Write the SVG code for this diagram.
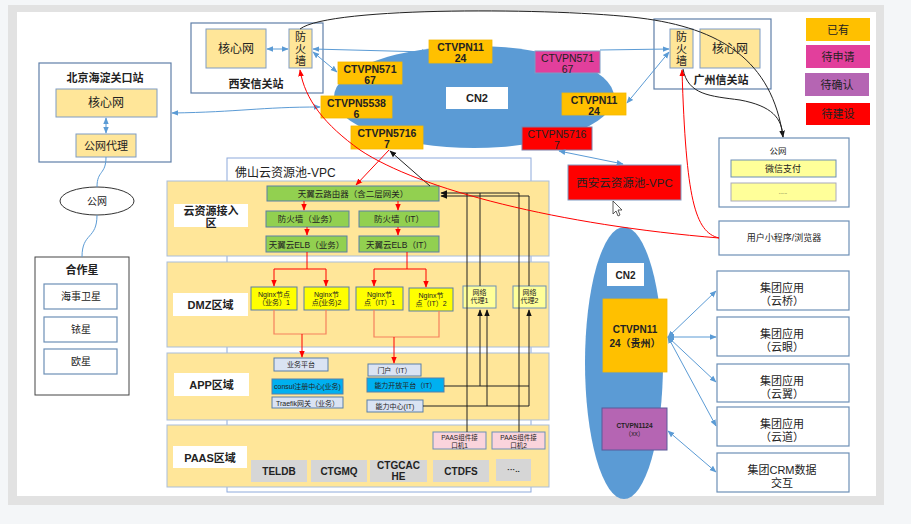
<svg xmlns="http://www.w3.org/2000/svg" width="911" height="524" viewBox="0 0 911 524">
<defs>
<style>
text{font-family:"Liberation Sans","Noto Sans CJK SC",sans-serif;fill:#222;text-anchor:middle}
.b{font-weight:bold}
.st{fill:#fff;stroke:#5f7fa8;stroke-width:1.2}
.core{fill:#ffe699;stroke:#7f9cc4;stroke-width:1}
.zone{fill:#ffe699;stroke:#a9bedb;stroke-width:1}
.lbl{fill:#fff;stroke:none}
.org{fill:#ffc000;stroke:#f5b800;stroke-width:0.8}
.grn{fill:#92d050;stroke:#5a7fa8;stroke-width:1}
.yel{fill:#ffff00;stroke:#5a7fa8;stroke-width:1}
.prx{fill:#ffff99;stroke:#6d8fb6;stroke-width:1}
.lb{fill:#dae3f3;stroke:#5a7fa8;stroke-width:1}
.cy{fill:#00b0f0;stroke:#5a7fa8;stroke-width:1}
.pk{fill:#fad4dc;stroke:#6d8fb6;stroke-width:1}
.gy{fill:#d6d6d6;stroke:none}
.wb{fill:#fff;stroke:#6d8fb6;stroke-width:1.2}
.blue{fill:none;stroke:#5b9bd5;stroke-width:1}
.blk{fill:none;stroke:#222;stroke-width:1}
.red{fill:none;stroke:#ff0000;stroke-width:1}
.sal{fill:none;stroke:#f5805e;stroke-width:1.2}
</style>
<marker id="ab" viewBox="0 0 10 10" refX="9" refY="5" markerWidth="7" markerHeight="7" orient="auto-start-reverse"><path d="M0,1 L10,5 L0,9 Z" fill="#5b9bd5"/></marker>
<marker id="ak" viewBox="0 0 10 10" refX="9" refY="5" markerWidth="7" markerHeight="7" orient="auto-start-reverse"><path d="M0,1 L10,5 L0,9 Z" fill="#111"/></marker>
<marker id="ar" viewBox="0 0 10 10" refX="9" refY="5" markerWidth="7" markerHeight="7" orient="auto-start-reverse"><path d="M0,1 L10,5 L0,9 Z" fill="#ff0000"/></marker>
</defs>

<rect x="0" y="0" width="911" height="524" fill="#f4f6f8"/>
<rect x="8" y="5" width="876" height="500" fill="#e2e2e2"/>
<rect x="17" y="12" width="859" height="484" fill="#ffffff"/>

<!-- Xi'an gateway -->
<g id="xian-station">
<rect class="st" x="191" y="23" width="132" height="70"/>
<text x="256" y="88" font-size="11" class="b">西安信关站</text>
</g>
<g id="xian-core"><rect class="core" x="206" y="29" width="60" height="39"/><text x="236" y="53" font-size="12">核心网</text></g>
<g id="xian-fw"><rect class="core" x="289" y="29" width="23" height="39"/>
<text x="300.5" y="41" font-size="11">防</text><text x="300.5" y="53" font-size="11">火</text><text x="300.5" y="65" font-size="11">墙</text></g>

<!-- Beijing -->
<g id="beijing-station"><rect class="st" x="39" y="63" width="132" height="99"/><text x="105" y="82" font-size="11" class="b">北京海淀关口站</text></g>
<g id="bj-core"><rect class="core" x="56" y="89" width="101" height="28"/><text x="106" y="107" font-size="12">核心网</text></g>
<g id="bj-proxy"><rect class="core" x="76" y="134" width="60" height="23"/><text x="106" y="150" font-size="11">公网代理</text></g>

<g id="public-net"><ellipse cx="97" cy="201" rx="37" ry="14" fill="#fff" stroke="#333" stroke-width="1"/><text x="97" y="205" font-size="10">公网</text></g>

<g id="partners"><rect x="35" y="257" width="94" height="138" fill="#fff" stroke="#444" stroke-width="1"/><text x="82" y="274" font-size="11" class="b">合作星</text></g>
<g id="p-hsws"><rect class="wb" x="44" y="284" width="73" height="25"/><text x="81" y="300" font-size="10" fill="#444">海事卫星</text></g>
<g id="p-yx"><rect class="wb" x="44" y="317" width="73" height="25"/><text x="81" y="333" font-size="10" fill="#444">铱星</text></g>
<g id="p-ox"><rect class="wb" x="44" y="349" width="73" height="25"/><text x="81" y="365" font-size="10" fill="#444">欧星</text></g>

<!-- CN2 top -->
<g id="cn2-top"><ellipse cx="474" cy="97" rx="140" ry="51" fill="#5b9bd5"/>
<rect x="446" y="87" width="62" height="22" fill="#fff"/><text x="477" y="102" font-size="11" class="b">CN2</text></g>
<g id="vpn1124-top"><rect class="org" x="429" y="40" width="63" height="23"/><text x="460.5" y="51" font-size="10.5" class="b">CTVPN11</text><text x="460.5" y="62" font-size="10.5" class="b">24</text></g>
<g id="vpn57167-l"><rect class="org" x="338" y="62" width="64" height="22"/><text x="370" y="73" font-size="10.5" class="b">CTVPN571</text><text x="370" y="84" font-size="10.5" class="b">67</text></g>
<g id="vpn55386"><rect class="org" x="321" y="96" width="71" height="22"/><text x="356.5" y="107" font-size="10.5" class="b">CTVPN5538</text><text x="356.5" y="118" font-size="10.5" class="b">6</text></g>
<g id="vpn57167-o"><rect class="org" x="351" y="126" width="72" height="23"/><text x="387" y="137" font-size="10.5" class="b">CTVPN5716</text><text x="387" y="148" font-size="10.5" class="b">7</text></g>
<g id="vpn57167-m"><rect x="535" y="51" width="65" height="22" fill="#e23f9c" stroke="#7f9cc4" stroke-width="1"/><text x="567.5" y="62" font-size="10.5" fill="#3a2040">CTVPN571</text><text x="567.5" y="73" font-size="10.5" fill="#3a2040">67</text></g>
<g id="vpn1124-r"><rect class="org" x="562" y="93" width="64" height="22"/><text x="594" y="104" font-size="10.5" class="b">CTVPN11</text><text x="594" y="115" font-size="10.5" class="b">24</text></g>
<g id="vpn57167-r"><rect x="522" y="127" width="70" height="23" fill="#ff0000" stroke="#7f7fa8" stroke-width="1"/><text x="557" y="138" font-size="10.5" fill="#333">CTVPN5716</text><text x="557" y="149" font-size="10.5" fill="#333">7</text></g>

<g id="xian-vpc"><rect x="568" y="165" width="113" height="35" fill="#ff0000" stroke="#7f9cc4" stroke-width="1"/><text x="624.5" y="187" font-size="11.5">西安云资源池-VPC</text></g>

<!-- Guangzhou -->
<g id="gz-station"><rect class="st" x="654" y="19" width="117" height="70"/><text x="721" y="84" font-size="11" class="b">广州信关站</text></g>
<g id="gz-fw"><rect class="core" x="670" y="29" width="23" height="39"/>
<text x="681.5" y="41" font-size="11">防</text><text x="681.5" y="53" font-size="11">火</text><text x="681.5" y="65" font-size="11">墙</text></g>
<g id="gz-core"><rect class="core" x="700" y="29" width="60" height="39"/><text x="730" y="53" font-size="12">核心网</text></g>

<!-- Legend -->
<g id="lg-have"><rect x="806" y="18" width="64" height="23" fill="#ffc000"/><text x="838" y="34" font-size="11">已有</text></g>
<g id="lg-apply"><rect x="806" y="45" width="64" height="23" fill="#e23f9c"/><text x="838" y="61" font-size="11">待申请</text></g>
<g id="lg-confirm"><rect x="805" y="73" width="64" height="23" fill="#b565b3"/><text x="837" y="89" font-size="11">待确认</text></g>
<g id="lg-build"><rect x="806" y="103" width="64" height="22" fill="#ff0000"/><text x="838" y="118" font-size="11">待建设</text></g>

<!-- Public net right -->
<g id="pub-right"><rect class="wb" x="719" y="138" width="130" height="69"/><text x="778" y="154" font-size="8.5" fill="#333">公网</text></g>
<g id="wechat"><rect x="731" y="160" width="105" height="17" fill="#ffff99" stroke="#6d8fb6" stroke-width="1"/><text x="783" y="172" font-size="9" fill="#333">微信支付</text></g>
<g id="more-pay"><rect x="731" y="183" width="105" height="18" fill="#ffff99" stroke="#aab" stroke-width="1"/><text x="783" y="194" font-size="5" fill="#999">......</text></g>
<g id="user"><rect class="wb" x="719" y="221" width="130" height="34"/><text x="784" y="241" font-size="9" fill="#333">用户小程序/浏览器</text></g>

<!-- CN2 right -->
<g id="cn2-right"><ellipse cx="624" cy="363" rx="39" ry="136" fill="#5b9bd5"/>
<rect x="607" y="263" width="37" height="23" fill="#fff"/><text x="625.5" y="279" font-size="10" class="b">CN2</text></g>
<g id="vpn-gz"><rect class="org" x="603" y="299" width="64" height="73"/><text x="635" y="333" font-size="10" class="b">CTVPN11</text><text x="635" y="347" font-size="10" class="b">24（贵州）</text></g>
<g id="vpn-xx"><rect x="602" y="408" width="65" height="42" fill="#b565b3" stroke="#5a5a9a" stroke-width="1"/><text x="634.5" y="428" font-size="6.5" class="b">CTVPN1124</text><text x="634.5" y="436" font-size="6.5">（xx）</text></g>

<g id="app-yq"><rect class="wb" x="717" y="271" width="132" height="39"/><text x="782" y="292" font-size="11">集团应用</text><text x="782" y="305" font-size="11">（云桥）</text></g>
<g id="app-yy"><rect class="wb" x="717" y="317" width="132" height="39"/><text x="782" y="338" font-size="11">集团应用</text><text x="782" y="351" font-size="11">（云眼）</text></g>
<g id="app-yi"><rect class="wb" x="717" y="364" width="132" height="38"/><text x="782" y="385" font-size="11">集团应用</text><text x="782" y="398" font-size="11">（云翼）</text></g>
<g id="app-yd"><rect class="wb" x="717" y="407" width="132" height="39"/><text x="782" y="428" font-size="11">集团应用</text><text x="782" y="441" font-size="11">（云道）</text></g>
<g id="app-crm"><rect class="wb" x="717" y="453" width="132" height="39"/><text x="782" y="474" font-size="11">集团CRM数据</text><text x="782" y="487" font-size="11">交互</text></g>

<!-- Foshan VPC -->
<g id="foshan-vpc"><rect x="227" y="158" width="304" height="334" fill="#fff" stroke="#8eaadb" stroke-width="1"/>
<text x="235" y="177" font-size="12" style="text-anchor:start">佛山云资源池-VPC</text></g>
<g id="zone-access"><rect class="zone" x="167" y="181" width="382" height="75"/><rect class="lbl" x="174" y="204" width="74" height="23"/><text x="211" y="215" font-size="11" class="b">云资源接入</text><text x="211" y="227" font-size="11" class="b">区</text></g>
<g id="zone-dmz"><rect class="zone" x="167" y="262" width="382" height="85"/><rect class="lbl" x="173" y="293" width="75" height="23"/><text x="210.5" y="309" font-size="11" class="b">DMZ区域</text></g>
<g id="zone-app"><rect class="zone" x="167" y="353" width="382" height="67"/><rect class="lbl" x="174" y="373" width="75" height="23"/><text x="211.5" y="389" font-size="11" class="b">APP区域</text></g>
<g id="zone-paas"><rect class="zone" x="167" y="425" width="382" height="62"/><rect class="lbl" x="173" y="446" width="74" height="22"/><text x="210" y="462" font-size="11" class="b">PAAS区域</text></g>

<g id="router"><rect class="grn" x="267" y="186" width="172" height="15"/><text x="353" y="197" font-size="8.5">天翼云路由器（含二层网关）</text></g>
<g id="fw-biz"><rect class="grn" x="266" y="211" width="83" height="16"/><text x="307.5" y="222" font-size="8.5">防火墙（业务）</text></g>
<g id="fw-it"><rect class="grn" x="359" y="211" width="80" height="16"/><text x="399" y="222" font-size="8.5">防火墙（IT）</text></g>
<g id="elb-biz"><rect class="grn" x="266" y="236" width="81" height="16"/><text x="306.5" y="247.5" font-size="8.5">天翼云ELB（业务）</text></g>
<g id="elb-it"><rect class="grn" x="359" y="236" width="80" height="16"/><text x="399" y="247.5" font-size="8.5">天翼云ELB（IT）</text></g>

<g id="ngx-b1"><rect class="yel" x="251" y="287" width="46" height="23"/><text x="274" y="297" font-size="7">Nginx节点</text><text x="274" y="305" font-size="7">（业务）1</text></g>
<g id="ngx-b2"><rect class="yel" x="304" y="287" width="45" height="23"/><text x="326.5" y="297" font-size="7">Nginx节</text><text x="326.5" y="305" font-size="7">点(业务)2</text></g>
<g id="ngx-i1"><rect class="yel" x="356" y="287" width="47" height="23"/><text x="379.5" y="297" font-size="7">Nginx节</text><text x="379.5" y="305" font-size="7">点（IT）1</text></g>
<g id="ngx-i2"><rect class="yel" x="409" y="288" width="44" height="23"/><text x="431" y="298" font-size="7">Nginx节</text><text x="431" y="306" font-size="7">点（IT）2</text></g>
<g id="proxy1"><rect class="prx" x="463" y="286" width="33" height="22"/><text x="479.5" y="295" font-size="7" fill="#444">网络</text><text x="479.5" y="303" font-size="7" fill="#444">代理1</text></g>
<g id="proxy2"><rect class="prx" x="513" y="286" width="33" height="22"/><text x="529.5" y="295" font-size="7" fill="#444">网络</text><text x="529.5" y="303" font-size="7" fill="#444">代理2</text></g>

<g id="biz-platform"><rect class="lb" x="274" y="358" width="54" height="13"/><text x="301" y="367" font-size="7">业务平台</text></g>
<g id="portal"><rect class="lb" x="368" y="364" width="53" height="12"/><text x="394.5" y="373" font-size="7">门户（IT）</text></g>
<g id="consul"><rect class="cy" x="272" y="379" width="71" height="15"/><text x="307.5" y="389" font-size="7">consul注册中心(业务)</text></g>
<g id="open-platform"><rect class="cy" x="367" y="378" width="77" height="14"/><text x="405.5" y="388" font-size="7">能力开放平台（IT）</text></g>
<g id="traefik"><rect class="lb" x="272" y="397" width="71" height="11"/><text x="307.5" y="405.5" font-size="7">Traefik网关（业务）</text></g>
<g id="ability"><rect class="lb" x="367" y="400" width="56" height="12"/><text x="395" y="409" font-size="7">能力中心(IT)</text></g>

<g id="paas-if1"><rect class="pk" x="433" y="432" width="53" height="17"/><text x="459.5" y="440" font-size="6.5" fill="#444">PAAS组件接</text><text x="459.5" y="448" font-size="6.5" fill="#444">口机1</text></g>
<g id="paas-if2"><rect class="pk" x="492" y="432" width="53" height="17"/><text x="518.5" y="440" font-size="6.5" fill="#444">PAAS组件接</text><text x="518.5" y="448" font-size="6.5" fill="#444">口机2</text></g>
<g id="teldb"><rect class="gy" x="251" y="460" width="56" height="22"/><text x="279" y="475" font-size="10" class="b">TELDB</text></g>
<g id="ctgmq"><rect class="gy" x="311" y="460" width="56" height="22"/><text x="339" y="475" font-size="10" class="b">CTGMQ</text></g>
<g id="ctgcache"><rect class="gy" x="370" y="460" width="57" height="22"/><text x="398.5" y="469" font-size="10" class="b">CTGCAC</text><text x="398.5" y="480" font-size="10" class="b">HE</text></g>
<g id="ctdfs"><rect class="gy" x="433" y="460" width="56" height="22"/><text x="461" y="475" font-size="10" class="b">CTDFS</text></g>
<g id="etc"><rect class="gy" x="496" y="459" width="35" height="22"/><text x="513.5" y="472" font-size="8" class="b">···..</text></g>

<!-- Connectors -->
<g id="connectors">
<path class="blue" d="M267,49 L288,49" marker-start="url(#ab)" marker-end="url(#ab)"/>
<path class="blue" d="M106,118 L106,133" marker-start="url(#ab)" marker-end="url(#ab)"/>
<path class="blue" d="M172,113 C240,112 260,107 320,107" marker-start="url(#ab)" marker-end="url(#ab)"/>
<path class="blue" d="M313,49 L428,52" marker-start="url(#ab)" marker-end="url(#ab)"/>
<path class="blue" d="M313,52 L337,72" marker-start="url(#ab)" marker-end="url(#ab)"/>
<path class="blue" d="M600,50 L669,49" marker-end="url(#ab)"/>
<path class="blue" d="M669,52 L627,103" marker-start="url(#ab)" marker-end="url(#ab)"/>
<path class="blue" d="M559,151 L623,164" marker-start="url(#ab)" marker-end="url(#ab)"/>
<path class="blue" d="M668,337 L716,291" marker-start="url(#ab)" marker-end="url(#ab)"/>
<path class="blue" d="M668,337 L716,337" marker-start="url(#ab)" marker-end="url(#ab)"/>
<path class="blue" d="M668,337 L716,382" marker-start="url(#ab)" marker-end="url(#ab)"/>
<path class="blue" d="M668,337 L716,426" marker-start="url(#ab)" marker-end="url(#ab)"/>
<path class="blue" d="M668,431 L716,472" marker-start="url(#ab)" marker-end="url(#ab)"/>
<path class="blue" d="M106,157 C106,175 97,170 97,187"/>
<path class="blue" d="M97,215 C97,240 82,232 82,257"/>

<path class="blk" d="M300,29 C330,6 560,8 640,18 C720,28 772,60 783,137" marker-end="url(#ak)"/>
<path class="blk" d="M683,69 C688,95 710,96 740,100 C772,106 782,118 783,137"/>
<path class="blk" d="M430,186 L390,151" marker-end="url(#ak)"/>
<path class="blk" d="M467,432 L467,193 M480,286 L480,193"/>
<path class="blk" d="M519,432 L519,193 L441,193" marker-end="url(#ak)"/>
<path class="blk" d="M529,286 L529,196 L441,196" marker-end="url(#ak)"/>
<path class="blk" d="M444,386 L480,386 L480,310" marker-end="url(#ak)"/>
<path class="blk" d="M480,386 L529,386 L529,310" marker-end="url(#ak)" stroke="#555"/>
<path class="blk" d="M423,406 L487,406 L487,310" marker-end="url(#ak)"/>
<path class="blk" d="M487,406 L529,406 L529,386"/>

<path class="red" d="M719,238 C560,225 420,190 360,150 C325,125 305,100 300,70" marker-end="url(#ar)"/>
<path class="red" d="M719,238 C695,232 686,200 682,70" marker-end="url(#ar)"/>
<path class="red" d="M389,150 L356,185" marker-end="url(#ar)"/>
<path class="red" d="M304,201 L304,210" marker-end="url(#ar)"/>
<path class="red" d="M398,201 L398,210" marker-end="url(#ar)"/>
<path class="red" d="M307,227 L307,235" marker-end="url(#ar)"/>
<path class="red" d="M398,227 L398,235" marker-end="url(#ar)"/>
<path class="red" d="M307,252 L307,269 L274,269 L274,286" marker-end="url(#ar)"/>
<path class="red" d="M307,269 L326,269 L326,286" marker-end="url(#ar)"/>
<path class="red" d="M407,252 L407,269 L374,269 L374,286" marker-end="url(#ar)"/>
<path class="red" d="M407,269 L426,269 L426,287" marker-end="url(#ar)"/>
<path class="sal" d="M274,310 L274,334 L326,334 L326,310"/>
<path class="sal" d="M374,310 L374,337 L439,337 L439,311"/>
<path class="red" d="M302,334 L302,357" marker-end="url(#ar)"/>
<path class="red" d="M394,337 L394,363" marker-end="url(#ar)"/>
</g>

<path d="M613,201 L613,214 L616,211 L618,216 L620,215 L618,210 L622,210 Z" fill="#fff" stroke="#333" stroke-width="0.8"/>
</svg>
